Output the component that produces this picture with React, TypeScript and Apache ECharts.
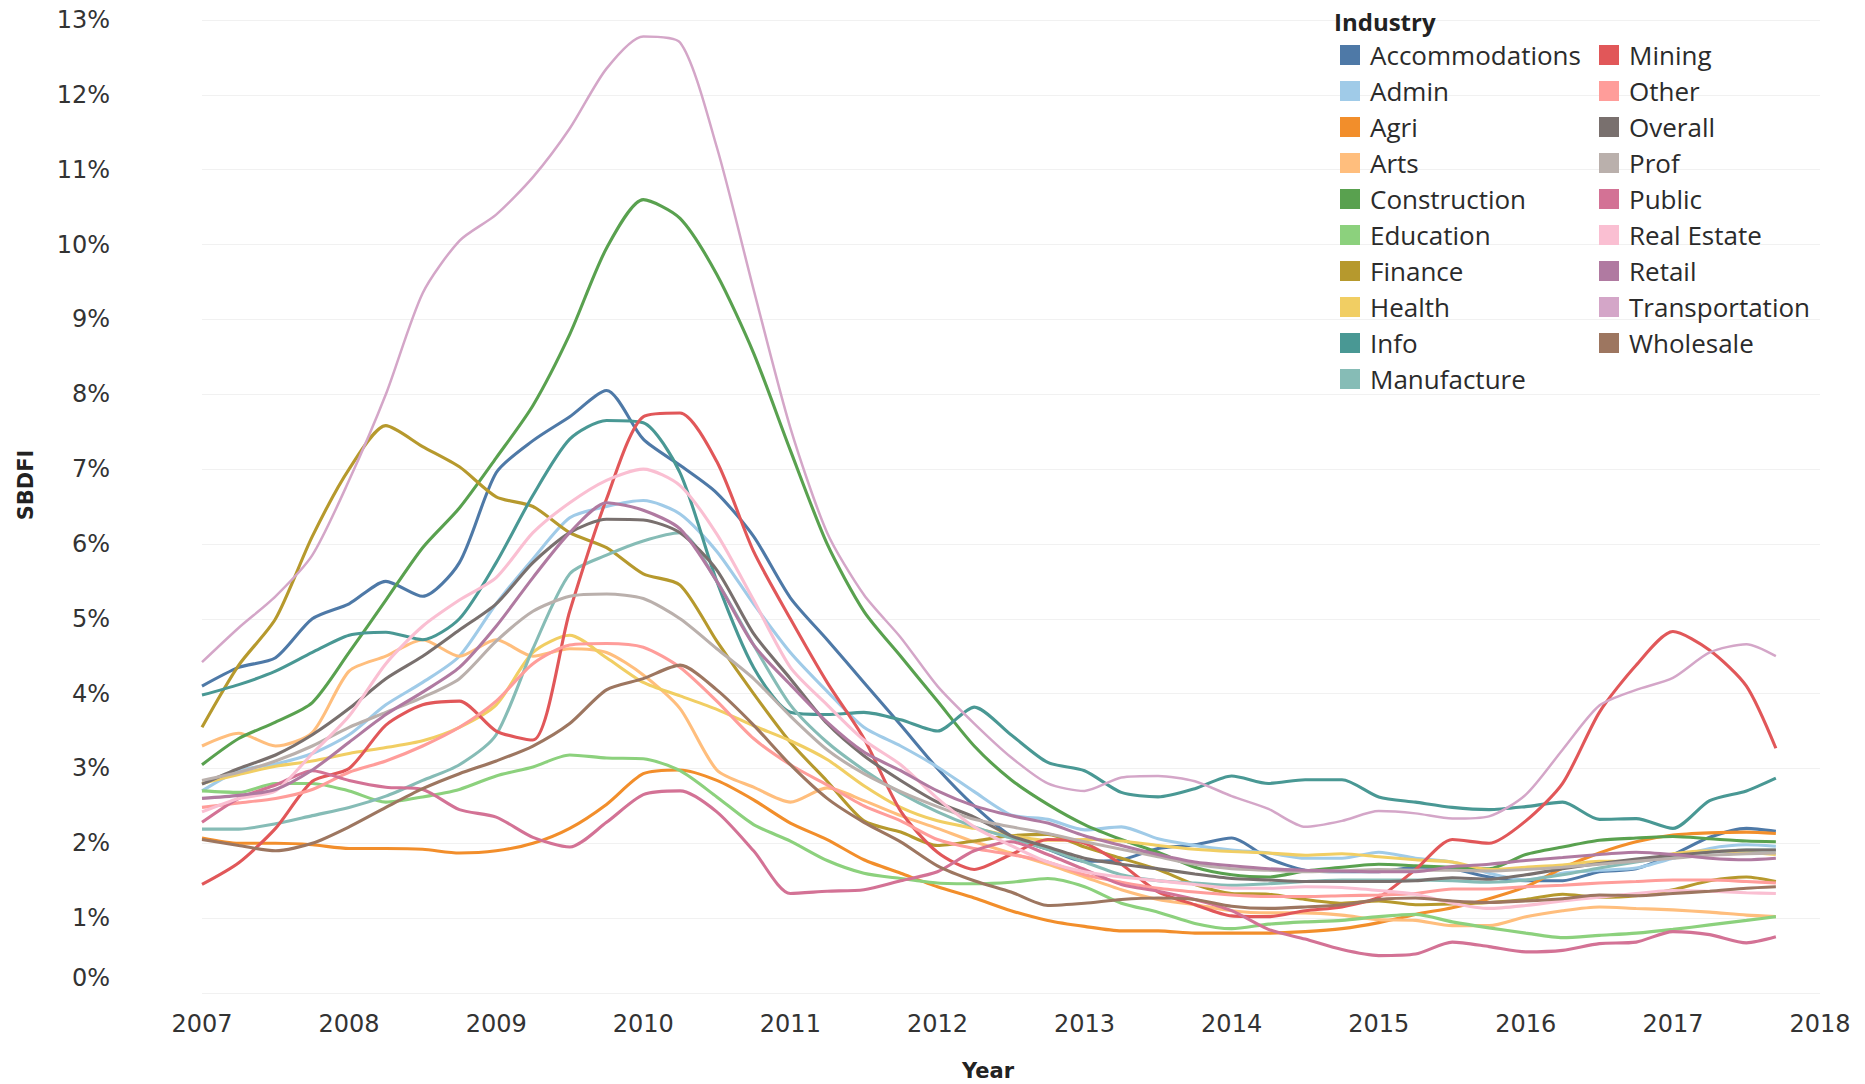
import React, { useEffect, useRef } from "react";
import * as echarts from "echarts";

// Quarter-year sample positions (last point ~Sep 2017)
const YEARS = [
  2007, 2007.25, 2007.5, 2007.75, 2008, 2008.25, 2008.5, 2008.75, 2009, 2009.25, 2009.5, 2009.75,
  2010, 2010.25, 2010.5, 2010.75, 2011, 2011.25, 2011.5, 2011.75, 2012, 2012.25, 2012.5, 2012.75,
  2013, 2013.25, 2013.5, 2013.75, 2014, 2014.25, 2014.5, 2014.75, 2015, 2015.25, 2015.5, 2015.75,
  2016, 2016.25, 2016.5, 2016.75, 2017, 2017.25, 2017.5, 2017.7,
];

const X_TICKS = [2007, 2008, 2009, 2010, 2011, 2012, 2013, 2014, 2015, 2016, 2017, 2018];
const Y_TICKS = [0, 1, 2, 3, 4, 5, 6, 7, 8, 9, 10, 11, 12, 13];

const accommodations = [4.10, 4.35, 4.48, 5.00, 5.20, 5.50, 5.30, 5.75, 6.95, 7.38, 7.70, 8.05, 7.40, 7.05, 6.68, 6.10, 5.28, 4.72, 4.15, 3.58, 3.00, 2.50, 2.10, 1.92, 1.76, 1.78, 1.93, 1.98, 2.07, 1.80, 1.64, 1.62, 1.62, 1.68, 1.66, 1.55, 1.50, 1.50, 1.62, 1.66, 1.85, 2.08, 2.20, 2.16];
const admin = [2.70, 2.97, 3.06, 3.20, 3.45, 3.85, 4.15, 4.50, 5.20, 5.80, 6.35, 6.50, 6.58, 6.40, 5.90, 5.20, 4.55, 4.03, 3.55, 3.30, 3.02, 2.69, 2.38, 2.32, 2.18, 2.22, 2.06, 1.97, 1.91, 1.87, 1.80, 1.80, 1.88, 1.80, 1.75, 1.60, 1.51, 1.60, 1.64, 1.67, 1.80, 1.93, 1.98, 1.96];
const agri = [2.07, 2.00, 2.00, 1.98, 1.93, 1.93, 1.92, 1.87, 1.90, 2.00, 2.20, 2.52, 2.93, 2.98, 2.84, 2.58, 2.27, 2.05, 1.78, 1.60, 1.42, 1.27, 1.10, 0.97, 0.89, 0.83, 0.83, 0.80, 0.80, 0.80, 0.82, 0.86, 0.94, 1.05, 1.14, 1.26, 1.42, 1.67, 1.87, 2.02, 2.11, 2.14, 2.15, 2.13];
const arts = [3.30, 3.47, 3.30, 3.48, 4.30, 4.50, 4.72, 4.50, 4.72, 4.50, 4.60, 4.55, 4.25, 3.80, 2.98, 2.75, 2.55, 2.74, 2.57, 2.37, 2.20, 2.02, 1.87, 1.72, 1.55, 1.38, 1.25, 1.18, 1.10, 1.07, 1.07, 1.04, 0.98, 0.97, 0.90, 0.90, 1.02, 1.10, 1.15, 1.13, 1.11, 1.08, 1.04, 1.02];
const construction = [3.05, 3.40, 3.62, 3.88, 4.55, 5.25, 5.95, 6.48, 7.15, 7.85, 8.80, 9.95, 10.60, 10.35, 9.60, 8.55, 7.25, 6.00, 5.10, 4.50, 3.90, 3.30, 2.85, 2.52, 2.25, 2.05, 1.88, 1.68, 1.58, 1.55, 1.63, 1.68, 1.72, 1.70, 1.68, 1.66, 1.85, 1.95, 2.04, 2.07, 2.09, 2.06, 2.03, 2.02];
const education = [2.70, 2.68, 2.80, 2.80, 2.70, 2.55, 2.62, 2.72, 2.90, 3.02, 3.18, 3.14, 3.13, 2.97, 2.62, 2.25, 2.03, 1.77, 1.60, 1.53, 1.47, 1.46, 1.48, 1.53, 1.42, 1.20, 1.08, 0.93, 0.86, 0.92, 0.95, 0.97, 1.02, 1.05, 0.95, 0.87, 0.80, 0.74, 0.77, 0.80, 0.85, 0.91, 0.97, 1.02];
const finance = [3.55, 4.38, 5.00, 6.10, 7.00, 7.58, 7.30, 7.03, 6.63, 6.50, 6.15, 5.95, 5.60, 5.45, 4.70, 4.00, 3.35, 2.83, 2.30, 2.15, 1.97, 2.03, 2.10, 2.12, 1.95, 1.80, 1.65, 1.45, 1.33, 1.32, 1.25, 1.20, 1.23, 1.18, 1.19, 1.21, 1.25, 1.32, 1.28, 1.30, 1.38, 1.50, 1.55, 1.49];
const health = [2.80, 2.92, 3.03, 3.10, 3.20, 3.28, 3.37, 3.55, 3.85, 4.55, 4.78, 4.48, 4.15, 3.97, 3.79, 3.57, 3.37, 3.12, 2.77, 2.48, 2.30, 2.20, 2.10, 2.04, 2.05, 2.03, 1.97, 1.92, 1.89, 1.87, 1.84, 1.86, 1.82, 1.78, 1.75, 1.65, 1.68, 1.71, 1.76, 1.76, 1.86, 1.90, 1.88, 1.85];
const info = [3.98, 4.12, 4.30, 4.55, 4.78, 4.82, 4.72, 5.00, 5.75, 6.65, 7.40, 7.65, 7.62, 6.95, 5.50, 4.35, 3.75, 3.72, 3.75, 3.65, 3.50, 3.82, 3.45, 3.08, 2.97, 2.68, 2.62, 2.73, 2.90, 2.80, 2.85, 2.85, 2.62, 2.55, 2.48, 2.45, 2.49, 2.55, 2.32, 2.33, 2.20, 2.57, 2.70, 2.87];
const manufacture = [2.19, 2.19, 2.26, 2.37, 2.48, 2.63, 2.84, 3.05, 3.45, 4.60, 5.60, 5.85, 6.04, 6.15, 5.50, 4.65, 3.85, 3.35, 2.98, 2.67, 2.42, 2.22, 2.07, 1.92, 1.75, 1.58, 1.50, 1.47, 1.44, 1.46, 1.49, 1.51, 1.51, 1.51, 1.50, 1.48, 1.51, 1.58, 1.67, 1.75, 1.82, 1.88, 1.91, 1.91];
const mining = [1.45, 1.74, 2.20, 2.83, 3.00, 3.58, 3.85, 3.90, 3.50, 3.38, 5.10, 6.60, 7.70, 7.75, 7.10, 5.90, 5.00, 4.15, 3.40, 2.43, 1.88, 1.65, 1.85, 2.05, 2.00, 1.72, 1.35, 1.18, 1.03, 1.02, 1.10, 1.15, 1.28, 1.65, 2.05, 2.00, 2.30, 2.80, 3.75, 4.38, 4.83, 4.58, 4.10, 3.27];
const other = [2.48, 2.54, 2.60, 2.72, 2.95, 3.10, 3.30, 3.55, 3.90, 4.40, 4.65, 4.67, 4.62, 4.35, 3.90, 3.40, 3.05, 2.78, 2.50, 2.30, 2.05, 1.93, 1.85, 1.75, 1.58, 1.48, 1.40, 1.35, 1.31, 1.29, 1.29, 1.30, 1.31, 1.33, 1.39, 1.39, 1.42, 1.44, 1.47, 1.49, 1.51, 1.51, 1.49, 1.47];
const overall = [2.79, 3.00, 3.18, 3.45, 3.80, 4.20, 4.50, 4.85, 5.20, 5.75, 6.15, 6.33, 6.32, 6.15, 5.65, 4.80, 4.20, 3.60, 3.17, 2.84, 2.55, 2.35, 2.10, 1.95, 1.80, 1.72, 1.66, 1.59, 1.53, 1.51, 1.49, 1.49, 1.49, 1.50, 1.54, 1.52, 1.58, 1.66, 1.73, 1.79, 1.84, 1.88, 1.91, 1.91];
const prof = [2.84, 2.95, 3.10, 3.30, 3.55, 3.75, 3.95, 4.20, 4.70, 5.10, 5.30, 5.33, 5.27, 5.00, 4.60, 4.20, 3.70, 3.25, 2.93, 2.69, 2.49, 2.32, 2.22, 2.13, 2.02, 1.92, 1.82, 1.72, 1.66, 1.64, 1.62, 1.63, 1.65, 1.64, 1.64, 1.63, 1.65, 1.68, 1.72, 1.76, 1.80, 1.84, 1.86, 1.87];
const publicSector = [2.28, 2.60, 2.78, 2.97, 2.84, 2.75, 2.72, 2.45, 2.35, 2.08, 1.95, 2.28, 2.65, 2.70, 2.42, 1.90, 1.33, 1.36, 1.38, 1.50, 1.62, 1.90, 2.02, 1.85, 1.65, 1.45, 1.36, 1.25, 1.10, 0.85, 0.72, 0.58, 0.50, 0.52, 0.68, 0.62, 0.55, 0.57, 0.66, 0.68, 0.82, 0.78, 0.67, 0.75];
const realEstate = [2.42, 2.60, 2.70, 3.20, 3.70, 4.40, 4.90, 5.25, 5.55, 6.15, 6.55, 6.85, 7.00, 6.78, 6.13, 5.25, 4.35, 3.85, 3.38, 3.05, 2.60, 2.22, 1.97, 1.75, 1.62, 1.55, 1.50, 1.45, 1.40, 1.40, 1.42, 1.41, 1.37, 1.32, 1.20, 1.13, 1.17, 1.23, 1.28, 1.33, 1.37, 1.36, 1.34, 1.33];
const retail = [2.60, 2.64, 2.72, 2.98, 3.35, 3.72, 4.02, 4.35, 4.90, 5.55, 6.15, 6.55, 6.45, 6.20, 5.50, 4.65, 4.12, 3.62, 3.22, 2.97, 2.70, 2.50, 2.37, 2.27, 2.10, 1.97, 1.85, 1.75, 1.70, 1.66, 1.64, 1.63, 1.62, 1.62, 1.69, 1.72, 1.77, 1.81, 1.85, 1.88, 1.85, 1.80, 1.78, 1.80];
const transportation = [4.42, 4.88, 5.30, 5.85, 6.85, 8.00, 9.35, 10.05, 10.40, 10.90, 11.55, 12.35, 12.78, 12.70, 11.30, 9.40, 7.55, 6.15, 5.32, 4.75, 4.10, 3.60, 3.15, 2.80, 2.70, 2.88, 2.90, 2.83, 2.63, 2.46, 2.22, 2.30, 2.43, 2.40, 2.33, 2.36, 2.65, 3.25, 3.84, 4.05, 4.21, 4.55, 4.66, 4.50];
const wholesale = [2.05, 1.97, 1.90, 2.00, 2.22, 2.48, 2.73, 2.93, 3.10, 3.30, 3.60, 4.05, 4.20, 4.38, 4.05, 3.58, 3.05, 2.60, 2.28, 2.02, 1.70, 1.50, 1.35, 1.17, 1.20, 1.25, 1.27, 1.25, 1.16, 1.13, 1.15, 1.18, 1.25, 1.27, 1.23, 1.21, 1.23, 1.26, 1.31, 1.30, 1.33, 1.36, 1.40, 1.42];

const NAMES = [
  "Accommodations", "Admin", "Agri", "Arts", "Construction", "Education", "Finance", "Health", "Info", "Manufacture",
  "Mining", "Other", "Overall", "Prof", "Public", "Real Estate", "Retail", "Transportation", "Wholesale",
];
const VALUES = [
  accommodations, admin, agri, arts, construction, education, finance, health, info, manufacture,
  mining, other, overall, prof, publicSector, realEstate, retail, transportation, wholesale,
];
const COLORS = [
  "#4E79A7", "#A0CBE8", "#F28E2B", "#FFBE7D", "#59A14F", "#8CD17D", "#B6992D", "#F1CE63", "#499894", "#86BCB6",
  "#E15759", "#FF9D9A", "#79706E", "#BAB0AC", "#D37295", "#FABFD2", "#B07AA1", "#D4A6C8", "#9D7660",
];

export default function App() {
  const ref = useRef<HTMLDivElement>(null);

  useEffect(() => {
    if (!ref.current) return;
    const chart = echarts.init(ref.current, null, { renderer: "svg" });

    const legendText = {
      fontFamily: "Open Sans",
      fontSize: 26,
      color: "#2b2b2b",
      lineHeight: 26,
      padding: [0, 0, 0, 5],
    };

    const series = NAMES.map((name, i) => ({
      name,
      type: "line",
      data: YEARS.map((x, j) => [x, VALUES[i][j]]),
      showSymbol: false,
      smooth: 0.25,
      color: COLORS[i],
      lineStyle: { width: name === "Transportation" ? 2.5 : 3.1, color: COLORS[i] },
      emphasis: { disabled: true },
      z: 2,
    }));

    chart.setOption({
      animation: false,
      backgroundColor: "#ffffff",
      title: {
        text: "Industry",
        left: 1329,
        top: 4,
        textStyle: { fontFamily: "Open Sans", fontWeight: "bold", fontSize: 24, color: "#222" },
      },
      legend: [
        {
          data: NAMES.slice(0, 10),
          orient: "vertical",
          left: 1335,
          top: 37,
          icon: "rect",
          itemWidth: 20,
          itemHeight: 20,
          itemGap: 10,
          selectedMode: false,
          textStyle: legendText,
        },
        {
          data: NAMES.slice(10),
          orient: "vertical",
          left: 1594,
          top: 37,
          icon: "rect",
          itemWidth: 20,
          itemHeight: 20,
          itemGap: 10,
          selectedMode: false,
          textStyle: legendText,
        },
      ],
      grid: { left: 202, right: 45, top: 20, bottom: 91, containLabel: false },
      xAxis: {
        type: "value",
        min: X_TICKS[0],
        max: X_TICKS[X_TICKS.length - 1],
        interval: 1,
        axisLine: { show: false },
        axisTick: { show: false },
        splitLine: { show: false },
        axisLabel: {
          margin: 19,
          fontFamily: "DejaVu Sans",
          fontSize: 24,
          color: "#333",
          formatter: (v: number) => String(v),
        },
      },
      yAxis: {
        type: "value",
        min: Y_TICKS[0],
        max: Y_TICKS[Y_TICKS.length - 1],
        interval: 1,
        axisLine: { show: false },
        axisTick: { show: false },
        splitLine: { show: true, lineStyle: { color: "#f1f1f1", width: 1 } },
        axisLabel: {
          margin: 92,
          fontFamily: "DejaVu Sans",
          fontSize: 24,
          color: "#333",
          formatter: (v: number) => (v === 0 ? "{zero|0%}" : `${v}%`),
          rich: {
            zero: {
              fontFamily: "DejaVu Sans",
              fontSize: 24,
              color: "#333",
              padding: [0, 0, 31, 0],
            },
          },
        },
      },
      graphic: [
        {
          type: "text",
          x: 26,
          y: 485,
          rotation: Math.PI / 2,
          style: {
            text: "SBDFI",
            fontFamily: "DejaVu Sans",
            fontWeight: "bold",
            fontSize: 21,
            fill: "#222",
            align: "center",
            verticalAlign: "middle",
          },
        },
        {
          type: "text",
          x: 988,
          y: 1071,
          style: {
            text: "Year",
            fontFamily: "DejaVu Sans",
            fontWeight: "bold",
            fontSize: 21,
            fill: "#222",
            align: "center",
            verticalAlign: "middle",
          },
        },
      ],
      series,
    });

    return () => chart.dispose();
  }, []);

  return (
    <div
      ref={ref}
      style={{ position: "fixed", left: 0, top: 0, width: 1865, height: 1084, background: "#fff" }}
    />
  );
}
